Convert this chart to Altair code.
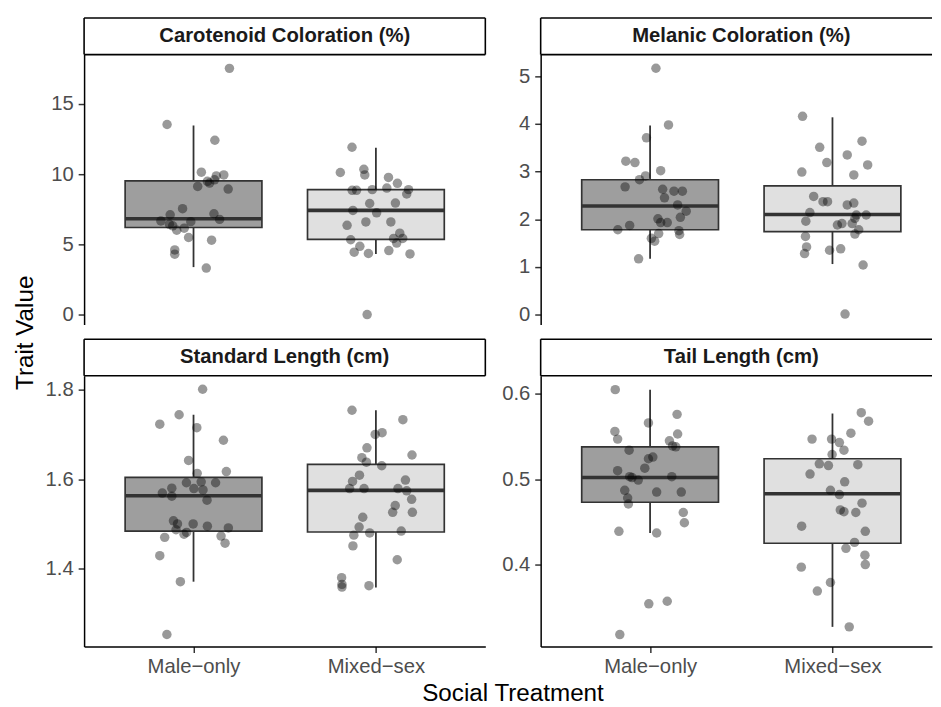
import altair as alt
import pandas as pd

FONT = "Liberation Sans"

treatments = ["Male\u2212only", "Mixed\u2212sex"]
traits = ["Carotenoid Coloration (%)", "Melanic Coloration (%)",
          "Standard Length (cm)", "Tail Length (cm)"]
box_fills = ["#9E9E9E", "#E0E0E0"]

# box statistics: [lower whisker, q1, median, q3, upper whisker]
car_box = [[3.38, 6.20, 6.83, 9.53, 13.47], [4.32, 5.35, 7.42, 8.90, 11.88]]
mel_box = [[1.17, 1.78, 2.28, 2.83, 3.97], [1.06, 1.74, 2.10, 2.70, 4.14]]
sl_box = [[1.371, 1.484, 1.563, 1.604, 1.744], [1.358, 1.482, 1.575, 1.633, 1.754]]
tl_box = [[0.437, 0.473, 0.502, 0.538, 0.605], [0.327, 0.425, 0.483, 0.524, 0.577]]

# individual observations and their horizontal jitter (category units)
car_m = [17.54, 13.54, 12.42, 10.14, 9.88, 9.95, 9.49, 9.37, 9.60, 9.13, 8.94, 7.54, 7.18,
         6.78, 7.11, 6.67, 6.43, 6.62, 6.01, 6.15, 5.49, 6.32, 5.30, 4.60, 4.30, 3.31]
car_m_j = [0.197, -0.145, 0.117, 0.043, 0.125, 0.166, 0.076, 0.088, 0.115, 0.023, 0.19, -0.06, 0.112,
           0.143, -0.128, -0.179, -0.132, -0.015, -0.092, -0.051, -0.027, -0.114, 0.099, -0.103, -0.103, 0.07]
car_x = [11.92, 10.12, 10.35, 9.95, 9.77, 9.35, 9.01, 8.85, 8.85, 8.90, 8.90, 8.59, 7.91, 7.94, 7.42,
         7.25, 6.60, 6.60, 6.36, 5.80, 5.42, 5.42, 5.09, 5.33, 4.86, 4.44, 4.35, 4.56, 4.32, 0.0]
car_x_j = [-0.131, -0.195, -0.066, -0.061, 0.069, 0.118, 0.06, -0.13, -0.106, -0.02, 0.179, 0.169, -0.034,
           0.107, -0.126, 0.004, -0.055, 0.082, -0.158, 0.131, 0.097, 0.147, 0.114, -0.138, -0.088, -0.119,
           -0.041, 0.071, 0.187, -0.048]

mel_m = [5.17, 3.98, 3.71, 3.22, 3.19, 3.02, 2.91, 2.83, 2.68, 2.63, 2.59, 2.59, 2.45, 2.30, 2.17,
         2.04, 2.01, 1.93, 1.93, 1.87, 1.78, 1.76, 1.68, 1.70, 1.60, 1.54, 1.17]
mel_m_j = [0.032, 0.101, -0.02, -0.133, -0.083, 0.058, -0.025, -0.058, -0.137, 0.069, 0.131, 0.177, 0.079,
           0.151, 0.198, 0.166, 0.043, 0.058, 0.094, -0.112, -0.177, 0.158, 0.162, 0.047, 0.007, 0.025, -0.063]
mel_x = [4.16, 3.64, 3.51, 3.35, 3.19, 3.14, 2.99, 2.93, 2.48, 2.37, 2.37, 2.30, 2.34, 2.14, 2.09,
         2.09, 2.02, 1.96, 1.91, 1.88, 1.91, 1.78, 1.69, 1.64, 1.42, 1.28, 1.35, 1.38, 1.04, 0.01]
mel_x_j = [-0.164, 0.162, -0.07, 0.081, -0.031, 0.193, -0.168, 0.117, -0.103, -0.052, -0.027, 0.081, 0.117,
           -0.124, 0.131, 0.185, 0.123, -0.146, 0.052, 0.027, 0.108, 0.144, 0.123, -0.148, -0.142, -0.153,
           -0.016, 0.045, 0.168, 0.069]

sl_m = [1.801, 1.744, 1.723, 1.715, 1.687, 1.642, 1.617, 1.613, 1.592, 1.594, 1.592, 1.580, 1.579, 1.576,
        1.569, 1.562, 1.553, 1.507, 1.500, 1.500, 1.495, 1.491, 1.487, 1.481, 1.477, 1.470, 1.473, 1.457,
        1.429, 1.371, 1.253]
sl_m_j = [0.05, -0.079, -0.185, 0.018, 0.164, -0.027, 0.18, 0.02, -0.039, 0.042, 0.121, -0.119, 0.002, 0.052,
          -0.171, -0.119, 0.074, -0.11, -0.088, -0.002, 0.076, 0.191, -0.096, -0.038, -0.052, -0.158, 0.151,
          0.173, -0.185, -0.072, -0.146]
sl_x = [1.754, 1.733, 1.704, 1.700, 1.670, 1.654, 1.648, 1.638, 1.630, 1.609, 1.598, 1.595, 1.579, 1.579,
        1.579, 1.574, 1.555, 1.541, 1.526, 1.526, 1.515, 1.493, 1.480, 1.484, 1.475, 1.451, 1.420, 1.380,
        1.365, 1.359, 1.362]
sl_x_j = [-0.131, 0.148, 0.034, -0.004, -0.049, 0.198, -0.077, -0.052, 0.032, -0.09, 0.162, -0.128, -0.144,
          -0.065, 0.121, 0.169, 0.196, 0.106, 0.092, 0.2, -0.072, -0.092, -0.034, 0.139, -0.121, -0.126, 0.117,
          -0.188, -0.186, -0.186, -0.038]

tl_m = [0.605, 0.576, 0.566, 0.556, 0.553, 0.547, 0.545, 0.539, 0.538, 0.534, 0.526, 0.524, 0.513, 0.510,
        0.503, 0.502, 0.499, 0.503, 0.487, 0.485, 0.485, 0.478, 0.471, 0.461, 0.449, 0.439, 0.437, 0.354,
        0.357, 0.318]
tl_m_j = [-0.191, 0.148, -0.009, -0.193, 0.151, -0.178, 0.106, 0.123, 0.141, -0.115, 0.015, -0.009, -0.029,
          -0.178, -0.112, -0.099, -0.065, 0.119, -0.139, 0.036, 0.171, -0.123, -0.119, 0.182, 0.188, -0.171,
          0.036, -0.007, 0.094, -0.166]
tl_x = [0.578, 0.568, 0.554, 0.547, 0.547, 0.543, 0.534, 0.529, 0.518, 0.516, 0.517, 0.506, 0.497, 0.487,
        0.482, 0.472, 0.464, 0.462, 0.461, 0.445, 0.439, 0.426, 0.419, 0.411, 0.400, 0.397, 0.379, 0.369,
        0.327]
tl_x_j = [0.158, 0.198, 0.101, -0.112, -0.005, 0.038, 0.063, -0.002, -0.072, -0.022, 0.139, -0.123, 0.067,
          -0.011, 0.038, 0.162, 0.043, 0.063, 0.128, -0.169, 0.18, 0.121, 0.074, 0.178, 0.18, -0.171, -0.011,
          -0.083, 0.092]

# axis tick values and visible y ranges per panel
car_ticks, car_dom = [0, 5, 10, 15], [-0.704, 18.52]
mel_ticks, mel_dom = [0, 1, 2, 3, 4, 5], [-0.207, 5.456]
sl_ticks, sl_dom = [1.4, 1.6, 1.8], [1.226, 1.831]
tl_ticks, tl_dom = [0.4, 0.5, 0.6], [0.3039, 0.6212]

W_LEFT, W_RIGHT = 406, 396
H_TOP, H_BOT = 273, 274
STRIP_H = 37
XDOM_LEFT = [0.4, 2.6]
XDOM_RIGHT = [0.4, 0.4 + W_RIGHT / (W_LEFT / 2.2)]

label_expr = "datum.value == 1 ? '%s' : '%s'" % (treatments[0], treatments[1])


def strip(label, width, xdom, gap, open_right):
    df = pd.DataFrame({"label": [label], "cx": [1.5]})
    base = alt.Chart(df)
    rule = dict(color="black", strokeWidth=1.6)
    layers = [
        base.mark_rule(**rule).encode(x=alt.value(0), x2=alt.value(width), y=alt.value(gap)),
        base.mark_rule(**rule).encode(x=alt.value(0), x2=alt.value(width), y=alt.value(gap + STRIP_H)),
        base.mark_rule(**rule).encode(x=alt.value(0), y=alt.value(gap), y2=alt.value(gap + STRIP_H)),
    ]
    if not open_right:
        layers.append(base.mark_rule(**rule).encode(x=alt.value(width), y=alt.value(gap),
                                                    y2=alt.value(gap + STRIP_H)))
    layers.append(
        base.mark_text(font=FONT, fontSize=20.5, fontWeight="bold", color="#1A1A1A",
                       baseline="middle", align="center").encode(
            x=alt.X("cx:Q", scale=alt.Scale(domain=xdom, nice=False, zero=False), axis=None),
            y=alt.value(gap + STRIP_H / 2),
            text="label:N")
    )
    return alt.layer(*layers).properties(width=width, height=gap + STRIP_H)


def panel(vals_m, jit_m, vals_x, jit_x, box, ydom, yticks, yfmt, width, height, xdom,
          bottom, left_titles):
    pts = pd.DataFrame({
        "treat": [treatments[0]] * len(vals_m) + [treatments[1]] * len(vals_x),
        "pos": [1 + j for j in jit_m] + [2 + j for j in jit_x],
        "value": vals_m + vals_x,
    })
    bdf = pd.DataFrame({
        "treat": treatments,
        "pos": [1, 2],
        "lo": [b[0] for b in box], "q1": [b[1] for b in box], "med": [b[2] for b in box],
        "q3": [b[3] for b in box], "hi": [b[4] for b in box],
    })
    xs = alt.Scale(domain=xdom, nice=False, zero=False)
    ys = alt.Scale(domain=ydom, nice=False, zero=False)
    if bottom:
        xkw = dict(values=[1, 2], labelExpr=label_expr, tickSize=6, labelPadding=4,
                   labelFontSize=20.5, labelColor="#4D4D4D", labelFont=FONT)
        if left_titles:
            xaxis = alt.Axis(title="Social Treatment", titleX=433.5, titleY=55,
                             titleAlign="center", titleBaseline="alphabetic", **xkw)
        else:
            xaxis = alt.Axis(title=None, **xkw)
    else:
        xaxis = None
    ykw = dict(values=yticks, format=yfmt, tickSize=6, labelPadding=5,
               labelFontSize=20.5, labelColor="#4D4D4D", labelFont=FONT)
    if left_titles:
        yaxis = alt.Axis(title="Trait Value", titleX=-52, titleY=-44, titleAngle=270,
                         titleAlign="center", titleBaseline="alphabetic", **ykw)
    else:
        yaxis = alt.Axis(title=None, **ykw)

    bb = alt.Chart(bdf).transform_calculate(xl="datum.pos - 0.375", xr="datum.pos + 0.375")
    whisk = bb.mark_rule(color="#333333", strokeWidth=1.8).encode(
        x=alt.X("pos:Q", scale=xs, axis=xaxis),
        y=alt.Y("lo:Q", scale=ys, axis=yaxis), y2="hi:Q")
    boxes = bb.mark_rect(stroke="#333333", strokeWidth=1.7).encode(
        x=alt.X("xl:Q", scale=xs, axis=xaxis), x2="xr:Q",
        y=alt.Y("q1:Q", scale=ys, axis=yaxis), y2="q3:Q",
        fill=alt.Fill("treat:N", scale=alt.Scale(domain=treatments, range=box_fills), legend=None))
    med = bb.mark_rule(color="#333333", strokeWidth=3.6).encode(
        x=alt.X("xl:Q", scale=xs, axis=xaxis), x2="xr:Q",
        y=alt.Y("med:Q", scale=ys, axis=yaxis))
    dots = alt.Chart(pts).mark_circle(color="black", opacity=0.4, size=92).encode(
        x=alt.X("pos:Q", scale=xs, axis=xaxis),
        y=alt.Y("value:Q", scale=ys, axis=yaxis))
    return alt.layer(whisk, boxes, med, dots).properties(width=width, height=height)


s1 = strip(traits[0], W_LEFT, XDOM_LEFT, 0, False)
s2 = strip(traits[1], W_RIGHT, XDOM_RIGHT, 0, True)
p1 = panel(car_m, car_m_j, car_x, car_x_j, car_box, car_dom, car_ticks, "d", W_LEFT, H_TOP,
           XDOM_LEFT, False, False)
p2 = panel(mel_m, mel_m_j, mel_x, mel_x_j, mel_box, mel_dom, mel_ticks, "d", W_RIGHT, H_TOP,
           XDOM_RIGHT, False, False)
s3 = strip(traits[2], W_LEFT, XDOM_LEFT, 15, False)
s4 = strip(traits[3], W_RIGHT, XDOM_RIGHT, 15, True)
p3 = panel(sl_m, sl_m_j, sl_x, sl_x_j, sl_box, sl_dom, sl_ticks, ".1f", W_LEFT, H_BOT,
           XDOM_LEFT, True, True)
p4 = panel(tl_m, tl_m_j, tl_x, tl_x_j, tl_box, tl_dom, tl_ticks, ".1f", W_RIGHT, H_BOT,
           XDOM_RIGHT, True, False)

chart = alt.concat(
    s1, s2, p1, p2, s3, s4, p3, p4,
    columns=2, spacing={"row": 0, "column": 56}, bounds="flush", align="each",
).properties(
    padding={"left": 5, "top": 5, "right": 0, "bottom": 0},
    background="white",
).configure_view(stroke=None).configure_axis(
    grid=False, domainColor="black", domainWidth=1.5, tickColor="#333333", tickWidth=1.5,
    titleFont=FONT, titleFontSize=24.5, titleColor="black", titleFontWeight="normal",
)

chart.save("out.html", embed_options={"renderer": "svg", "actions": False})
